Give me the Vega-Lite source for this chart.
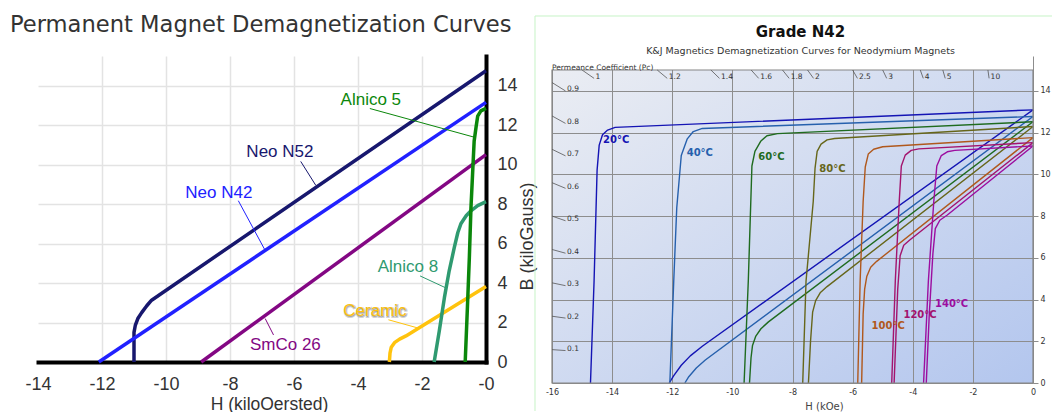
{
  "$schema": "https://vega.github.io/schema/vega-lite/v6.json",
  "background": "white",
  "padding": {"left": 10, "top": 14, "right": 0, "bottom": 0},
  "spacing": -3,
  "resolve": {"scale": {"color": "independent"}},
  "config": {"view": {"stroke": null}, "font": "DejaVu Sans"},
  "datasets": {
    "magnets": [
      {"m": "Neo N52", "i": 0, "h": -11.0, "b": 0},
      {"m": "Neo N52", "i": 1, "h": -11.0, "b": 1.5},
      {"m": "Neo N52", "i": 2, "h": -10.96, "b": 1.85},
      {"m": "Neo N52", "i": 3, "h": -10.88, "b": 2.2},
      {"m": "Neo N52", "i": 4, "h": -10.76, "b": 2.5},
      {"m": "Neo N52", "i": 5, "h": -10.6, "b": 2.85},
      {"m": "Neo N52", "i": 6, "h": -10.45, "b": 3.13},
      {"m": "Neo N52", "i": 7, "h": 0, "b": 14.75},
      {"m": "Neo N42", "i": 0, "h": -12.1, "b": 0},
      {"m": "Neo N42", "i": 1, "h": 0, "b": 13.15},
      {"m": "SmCo 26", "i": 0, "h": -8.9, "b": 0},
      {"m": "SmCo 26", "i": 1, "h": 0, "b": 10.5},
      {"m": "Ceramic", "i": 0, "h": -3.02, "b": 0},
      {"m": "Ceramic", "i": 1, "h": -3.0, "b": 0.45},
      {"m": "Ceramic", "i": 2, "h": -2.96, "b": 0.75},
      {"m": "Ceramic", "i": 3, "h": -2.86, "b": 0.98},
      {"m": "Ceramic", "i": 4, "h": -2.7, "b": 1.16},
      {"m": "Ceramic", "i": 5, "h": -2.5, "b": 1.32},
      {"m": "Ceramic", "i": 6, "h": -2.3, "b": 1.52},
      {"m": "Ceramic", "i": 7, "h": 0, "b": 3.82},
      {"m": "Alnico 8", "i": 0, "h": -1.62, "b": 0},
      {"m": "Alnico 8", "i": 1, "h": -1.46, "b": 1.57},
      {"m": "Alnico 8", "i": 2, "h": -1.3, "b": 3.26},
      {"m": "Alnico 8", "i": 3, "h": -1.15, "b": 4.62},
      {"m": "Alnico 8", "i": 4, "h": -0.99, "b": 5.8},
      {"m": "Alnico 8", "i": 5, "h": -0.88, "b": 6.56},
      {"m": "Alnico 8", "i": 6, "h": -0.78, "b": 7.02},
      {"m": "Alnico 8", "i": 7, "h": -0.62, "b": 7.41},
      {"m": "Alnico 8", "i": 8, "h": -0.47, "b": 7.66},
      {"m": "Alnico 8", "i": 9, "h": -0.26, "b": 7.92},
      {"m": "Alnico 8", "i": 10, "h": 0, "b": 8.12},
      {"m": "Alnico 5", "i": 0, "h": -0.65, "b": 0},
      {"m": "Alnico 5", "i": 1, "h": -0.58, "b": 2.8},
      {"m": "Alnico 5", "i": 2, "h": -0.52, "b": 5.3},
      {"m": "Alnico 5", "i": 3, "h": -0.47, "b": 7.8},
      {"m": "Alnico 5", "i": 4, "h": -0.42, "b": 9.5},
      {"m": "Alnico 5", "i": 5, "h": -0.37, "b": 11.2},
      {"m": "Alnico 5", "i": 6, "h": -0.31, "b": 11.9},
      {"m": "Alnico 5", "i": 7, "h": -0.26, "b": 12.45},
      {"m": "Alnico 5", "i": 8, "h": -0.16, "b": 12.72},
      {"m": "Alnico 5", "i": 9, "h": 0, "b": 12.85}
    ],
    "notes": [
      {"m": "Alnico 5", "h": -3.6, "b": 13.26},
      {"m": "Neo N52", "h": -6.44, "b": 10.62},
      {"m": "Neo N42", "h": -8.35, "b": 8.56},
      {"m": "Alnico 8", "h": -2.44, "b": 4.82},
      {"m": "Ceramic", "h": -3.47, "b": 2.57},
      {"m": "SmCo 26", "h": -6.27, "b": 0.85}
    ],
    "leaders": [
      {"m": "Alnico 5", "h": -3.63, "b": 12.84, "h2": -0.35, "b2": 11.38},
      {"m": "Neo N52", "h": -5.79, "b": 10.16, "h2": -5.32, "b2": 8.95},
      {"m": "Neo N42", "h": -7.74, "b": 8.17, "h2": -6.9, "b2": 5.65},
      {"m": "Alnico 8", "h": -2.06, "b": 4.36, "h2": -1.25, "b2": 3.75},
      {"m": "Ceramic", "h": -3.05, "b": 2.14, "h2": -2.1, "b2": 1.71},
      {"m": "SmCo 26", "h": -6.9, "b": 2.2, "h2": -6.64, "b2": 1.37}
    ],
    "grade": [
      {"t": "20°C", "k": "J", "i": 0, "h": 0, "b": 13.09},
      {"t": "20°C", "k": "J", "i": 1, "h": -13.9, "b": 12.25},
      {"t": "20°C", "k": "J", "i": 2, "h": -14.15, "b": 12.12},
      {"t": "20°C", "k": "J", "i": 3, "h": -14.32, "b": 11.9},
      {"t": "20°C", "k": "J", "i": 4, "h": -14.43, "b": 11.4},
      {"t": "20°C", "k": "J", "i": 5, "h": -14.5, "b": 10.2},
      {"t": "20°C", "k": "J", "i": 6, "h": -14.6, "b": 4.9},
      {"t": "20°C", "k": "J", "i": 7, "h": -14.72, "b": 0},
      {"t": "20°C", "k": "B", "i": 0, "h": 0, "b": 13.09},
      {"t": "20°C", "k": "B", "i": 1, "h": -11.0, "b": 1.76},
      {"t": "20°C", "k": "B", "i": 2, "h": -11.4, "b": 1.3},
      {"t": "20°C", "k": "B", "i": 3, "h": -11.7, "b": 0.85},
      {"t": "20°C", "k": "B", "i": 4, "h": -11.95, "b": 0.35},
      {"t": "20°C", "k": "B", "i": 5, "h": -12.1, "b": 0},
      {"t": "40°C", "k": "J", "i": 0, "h": 0, "b": 12.77},
      {"t": "40°C", "k": "J", "i": 1, "h": -11.0, "b": 12.2},
      {"t": "40°C", "k": "J", "i": 2, "h": -11.3, "b": 12.05},
      {"t": "40°C", "k": "J", "i": 3, "h": -11.5, "b": 11.7},
      {"t": "40°C", "k": "J", "i": 4, "h": -11.7, "b": 10.9},
      {"t": "40°C", "k": "J", "i": 5, "h": -11.85, "b": 8.4},
      {"t": "40°C", "k": "J", "i": 6, "h": -11.95, "b": 4.9},
      {"t": "40°C", "k": "J", "i": 7, "h": -12.08, "b": 0},
      {"t": "40°C", "k": "B", "i": 0, "h": 0, "b": 12.77},
      {"t": "40°C", "k": "B", "i": 1, "h": -10.9, "b": 1.1},
      {"t": "40°C", "k": "B", "i": 2, "h": -11.2, "b": 0.72},
      {"t": "40°C", "k": "B", "i": 3, "h": -11.45, "b": 0.3},
      {"t": "40°C", "k": "B", "i": 4, "h": -11.58, "b": 0},
      {"t": "60°C", "k": "J", "i": 0, "h": 0, "b": 12.52},
      {"t": "60°C", "k": "J", "i": 1, "h": -8.5, "b": 11.95},
      {"t": "60°C", "k": "J", "i": 2, "h": -8.85, "b": 11.85},
      {"t": "60°C", "k": "J", "i": 3, "h": -9.05, "b": 11.6},
      {"t": "60°C", "k": "J", "i": 4, "h": -9.25, "b": 11.1},
      {"t": "60°C", "k": "J", "i": 5, "h": -9.35, "b": 10.4},
      {"t": "60°C", "k": "J", "i": 6, "h": -9.47, "b": 4.9},
      {"t": "60°C", "k": "J", "i": 7, "h": -9.61, "b": 0},
      {"t": "60°C", "k": "B", "i": 0, "h": 0, "b": 12.52},
      {"t": "60°C", "k": "B", "i": 1, "h": -8.8, "b": 2.93},
      {"t": "60°C", "k": "B", "i": 2, "h": -9.05, "b": 2.6},
      {"t": "60°C", "k": "B", "i": 3, "h": -9.22, "b": 2.25},
      {"t": "60°C", "k": "B", "i": 4, "h": -9.33, "b": 1.8},
      {"t": "60°C", "k": "B", "i": 5, "h": -9.38, "b": 1.2},
      {"t": "60°C", "k": "B", "i": 6, "h": -9.43, "b": 0},
      {"t": "80°C", "k": "J", "i": 0, "h": 0, "b": 12.29},
      {"t": "80°C", "k": "J", "i": 1, "h": -6.6, "b": 11.72},
      {"t": "80°C", "k": "J", "i": 2, "h": -6.85, "b": 11.65},
      {"t": "80°C", "k": "J", "i": 3, "h": -7.05, "b": 11.45},
      {"t": "80°C", "k": "J", "i": 4, "h": -7.18, "b": 11.1},
      {"t": "80°C", "k": "J", "i": 5, "h": -7.25, "b": 10.3},
      {"t": "80°C", "k": "J", "i": 6, "h": -7.31, "b": 8.7},
      {"t": "80°C", "k": "J", "i": 7, "h": -7.55, "b": 4.88},
      {"t": "80°C", "k": "J", "i": 8, "h": -7.66, "b": 0},
      {"t": "80°C", "k": "B", "i": 0, "h": 0, "b": 12.29},
      {"t": "80°C", "k": "B", "i": 1, "h": -6.85, "b": 4.62},
      {"t": "80°C", "k": "B", "i": 2, "h": -7.08, "b": 4.32},
      {"t": "80°C", "k": "B", "i": 3, "h": -7.23, "b": 3.95},
      {"t": "80°C", "k": "B", "i": 4, "h": -7.33, "b": 3.4},
      {"t": "80°C", "k": "B", "i": 5, "h": -7.4, "b": 2.0},
      {"t": "80°C", "k": "B", "i": 6, "h": -7.47, "b": 0},
      {"t": "100°C", "k": "J", "i": 0, "h": 0, "b": 11.76},
      {"t": "100°C", "k": "J", "i": 1, "h": -5.0, "b": 11.32},
      {"t": "100°C", "k": "J", "i": 2, "h": -5.3, "b": 11.2},
      {"t": "100°C", "k": "J", "i": 3, "h": -5.48, "b": 10.97},
      {"t": "100°C", "k": "J", "i": 4, "h": -5.58, "b": 10.35},
      {"t": "100°C", "k": "J", "i": 5, "h": -5.65, "b": 8.7},
      {"t": "100°C", "k": "J", "i": 6, "h": -5.75, "b": 4.9},
      {"t": "100°C", "k": "J", "i": 7, "h": -5.83, "b": 0},
      {"t": "100°C", "k": "B", "i": 0, "h": 0, "b": 11.76},
      {"t": "100°C", "k": "B", "i": 1, "h": -5.2, "b": 5.83},
      {"t": "100°C", "k": "B", "i": 2, "h": -5.4, "b": 5.55},
      {"t": "100°C", "k": "B", "i": 3, "h": -5.53, "b": 5.1},
      {"t": "100°C", "k": "B", "i": 4, "h": -5.6, "b": 4.5},
      {"t": "100°C", "k": "B", "i": 5, "h": -5.65, "b": 3.3},
      {"t": "100°C", "k": "B", "i": 6, "h": -5.7, "b": 0},
      {"t": "120°C", "k": "J", "i": 0, "h": 0, "b": 11.52},
      {"t": "120°C", "k": "J", "i": 1, "h": -3.8, "b": 11.22},
      {"t": "120°C", "k": "J", "i": 2, "h": -4.05, "b": 11.15},
      {"t": "120°C", "k": "J", "i": 3, "h": -4.25, "b": 10.92},
      {"t": "120°C", "k": "J", "i": 4, "h": -4.38, "b": 10.4},
      {"t": "120°C", "k": "J", "i": 5, "h": -4.45, "b": 8.7},
      {"t": "120°C", "k": "J", "i": 6, "h": -4.58, "b": 4.9},
      {"t": "120°C", "k": "J", "i": 7, "h": -4.7, "b": 0},
      {"t": "120°C", "k": "B", "i": 0, "h": 0, "b": 11.52},
      {"t": "120°C", "k": "B", "i": 1, "h": -4.1, "b": 6.85},
      {"t": "120°C", "k": "B", "i": 2, "h": -4.3, "b": 6.6},
      {"t": "120°C", "k": "B", "i": 3, "h": -4.42, "b": 6.1},
      {"t": "120°C", "k": "B", "i": 4, "h": -4.5, "b": 4.5},
      {"t": "120°C", "k": "B", "i": 5, "h": -4.62, "b": 0},
      {"t": "140°C", "k": "J", "i": 0, "h": 0, "b": 11.36},
      {"t": "140°C", "k": "J", "i": 1, "h": -2.6, "b": 11.15},
      {"t": "140°C", "k": "J", "i": 2, "h": -2.85, "b": 11.08},
      {"t": "140°C", "k": "J", "i": 3, "h": -3.05, "b": 10.9},
      {"t": "140°C", "k": "J", "i": 4, "h": -3.2, "b": 10.4},
      {"t": "140°C", "k": "J", "i": 5, "h": -3.3, "b": 8.7},
      {"t": "140°C", "k": "J", "i": 6, "h": -3.48, "b": 4.9},
      {"t": "140°C", "k": "J", "i": 7, "h": -3.64, "b": 0},
      {"t": "140°C", "k": "B", "i": 0, "h": 0, "b": 11.36},
      {"t": "140°C", "k": "B", "i": 1, "h": -2.85, "b": 8.05},
      {"t": "140°C", "k": "B", "i": 2, "h": -3.1, "b": 7.8},
      {"t": "140°C", "k": "B", "i": 3, "h": -3.25, "b": 7.4},
      {"t": "140°C", "k": "B", "i": 4, "h": -3.33, "b": 6.2},
      {"t": "140°C", "k": "B", "i": 5, "h": -3.45, "b": 3.3},
      {"t": "140°C", "k": "B", "i": 6, "h": -3.55, "b": 0}
    ],
    "temps": [
      {"t": "20°C", "h": -14.3, "b": 11.65},
      {"t": "40°C", "h": -11.52, "b": 11.0},
      {"t": "60°C", "h": -9.14, "b": 10.85},
      {"t": "80°C", "h": -7.11, "b": 10.24},
      {"t": "100°C", "h": -5.37, "b": 2.73},
      {"t": "120°C", "h": -4.31, "b": 3.26},
      {"t": "140°C", "h": -3.26, "b": 3.77}
    ],
    "permeance": [
      {"pc": "1", "h": -15, "b": 15, "h2": -14.6, "b2": 14.6},
      {"pc": "1.2", "h": -12.5, "b": 15, "h2": -12.167, "b2": 14.6},
      {"pc": "1.4", "h": -10.714, "b": 15, "h2": -10.429, "b2": 14.6},
      {"pc": "1.6", "h": -9.375, "b": 15, "h2": -9.125, "b2": 14.6},
      {"pc": "1.8", "h": -8.333, "b": 15, "h2": -8.111, "b2": 14.6},
      {"pc": "2", "h": -7.5, "b": 15, "h2": -7.3, "b2": 14.6},
      {"pc": "2.5", "h": -6, "b": 15, "h2": -5.84, "b2": 14.6},
      {"pc": "3", "h": -5, "b": 15, "h2": -4.867, "b2": 14.6},
      {"pc": "4", "h": -3.75, "b": 15, "h2": -3.65, "b2": 14.6},
      {"pc": "5", "h": -3, "b": 15, "h2": -2.92, "b2": 14.6},
      {"pc": "10", "h": -1.5, "b": 15, "h2": -1.46, "b2": 14.6},
      {"pc": "0.1", "h": -16, "b": 1.6, "h2": -15.55, "b2": 1.555},
      {"pc": "0.2", "h": -16, "b": 3.2, "h2": -15.55, "b2": 3.11},
      {"pc": "0.3", "h": -16, "b": 4.8, "h2": -15.55, "b2": 4.665},
      {"pc": "0.4", "h": -16, "b": 6.4, "h2": -15.55, "b2": 6.22},
      {"pc": "0.5", "h": -16, "b": 8.0, "h2": -15.55, "b2": 7.775},
      {"pc": "0.6", "h": -16, "b": 9.6, "h2": -15.55, "b2": 9.33},
      {"pc": "0.7", "h": -16, "b": 11.2, "h2": -15.55, "b2": 10.885},
      {"pc": "0.8", "h": -16, "b": 12.8, "h2": -15.55, "b2": 12.44},
      {"pc": "0.9", "h": -16, "b": 14.4, "h2": -15.55, "b2": 13.995}
    ]
  },
  "hconcat": [
    {
      "width": 448,
      "height": 306,
      "title": {
        "text": "Permanent Magnet Demagnetization Curves",
        "anchor": "start",
        "frame": "group",
        "dx": -28,
        "offset": 19,
        "font": "DejaVu Sans",
        "fontSize": 22.6,
        "fontWeight": "normal",
        "color": "#333333"
      },
      "layer": [
        {
          "data": {"name": "magnets"},
          "mark": {"type": "line", "strokeWidth": 3.5, "strokeJoin": "round", "strokeCap": "butt"},
          "encoding": {
            "x": {
              "field": "h", "type": "quantitative",
              "scale": {"domain": [-14, 0], "nice": false, "zero": false},
              "title": "H (kiloOersted)",
              "axis": {
                "orient": "bottom",
                "values": [-14, -12, -10, -8, -6, -4, -2, 0],
                "labelExpr": "'-' + abs(datum.value)",
                "labelFlush": false,
                "domainColor": "#000000", "domainWidth": 4, "domainCap": "square",
                "ticks": false,
                "labelFont": "Liberation Sans", "labelFontSize": 18, "labelColor": "#333333", "labelPadding": 13,
                "grid": true, "gridColor": "#e3e3e3", "gridWidth": 1.5,
                "gridOpacity": {"condition": {"test": "datum.value == -14 || datum.value == 0", "value": 0}, "value": 1},
                "titleFont": "Liberation Sans", "titleFontSize": 17.5, "titleFontWeight": "normal", "titleColor": "#333333", "titlePadding": 2,
                "titleX": 231
              }
            },
            "y": {
              "field": "b", "type": "quantitative",
              "scale": {"domain": [0, 15.5], "nice": false, "zero": false},
              "title": "B (kiloGauss)",
              "axis": {
                "orient": "right",
                "values": [0, 2, 4, 6, 8, 10, 12, 14],
                "labelFlush": false,
                "domainColor": "#000000", "domainWidth": 4, "domainCap": "square",
                "ticks": false,
                "labelFont": "Liberation Sans", "labelFontSize": 18, "labelColor": "#333333", "labelPadding": 11,
                "grid": true, "gridColor": "#e3e3e3", "gridWidth": 1.5,
                "gridOpacity": {"condition": {"test": "datum.value == 0", "value": 0}, "value": 1},
                "titleFont": "Liberation Sans", "titleFontSize": 18, "titleFontWeight": "normal", "titleColor": "#333333",
                "titleAngle": 270, "titleBaseline": "top", "titlePadding": 1,
                "titleY": 180
              }
            },
            "color": {
              "field": "m", "type": "nominal", "legend": null,
              "scale": {
                "domain": ["Neo N52", "Neo N42", "SmCo 26", "Alnico 5", "Alnico 8", "Ceramic"],
                "range": ["#17176e", "#2121ff", "#830783", "#0b870b", "#2f9a70", "#ffc30d"]
              }
            },
            "order": {"field": "i", "type": "quantitative"}
          }
        },
        {
          "data": {"name": "leaders"},
          "mark": {"type": "rule", "strokeWidth": 1},
          "encoding": {
            "x": {"field": "h", "type": "quantitative", "title": "H (kiloOersted)"},
            "y": {"field": "b", "type": "quantitative", "title": "B (kiloGauss)"},
            "x2": {"field": "h2"},
            "y2": {"field": "b2"},
            "color": {"field": "m", "type": "nominal", "legend": null}
          }
        },
        {
          "data": {"name": "notes"},
          "transform": [{"filter": "datum.m == 'Ceramic'"}],
          "mark": {"type": "text", "font": "Liberation Sans", "fontSize": 17, "align": "center", "baseline": "middle", "stroke": "#8c8c8c", "strokeWidth": 2, "strokeOpacity": 0.4, "fill": "#8c8c8c", "fillOpacity": 0.6, "dx": 0.5, "dy": 0.5},
          "encoding": {
            "x": {"field": "h", "type": "quantitative", "title": "H (kiloOersted)"},
            "y": {"field": "b", "type": "quantitative", "title": "B (kiloGauss)"},
            "text": {"field": "m"}
          }
        },
        {
          "data": {"name": "notes"},
          "mark": {"type": "text", "font": "Liberation Sans", "fontSize": 17, "align": "center", "baseline": "middle"},
          "encoding": {
            "x": {"field": "h", "type": "quantitative", "title": "H (kiloOersted)"},
            "y": {"field": "b", "type": "quantitative", "title": "B (kiloGauss)"},
            "text": {"field": "m"},
            "color": {"field": "m", "type": "nominal", "legend": null}
          }
        }
      ]
    },
    {
      "width": 481,
      "height": 327,
      "view": {
        "stroke": null,
        "fill": {
          "gradient": "linear", "x1": 0, "y1": 0, "x2": 1, "y2": 1,
          "stops": [{"offset": 0, "color": "#eceef3"}, {"offset": 1, "color": "#b3c6ee"}]
        }
      },
      "title": {
        "text": "Grade N42",
        "subtitle": "K&J Magnetics Demagnetization Curves for Neodymium Magnets",
        "anchor": "middle",
        "dx": 8,
        "offset": -40,
        "font": "DejaVu Sans",
        "fontSize": 15,
        "fontWeight": "bold",
        "color": "#111111",
        "subtitleFont": "DejaVu Sans",
        "subtitleFontSize": 9.5,
        "subtitleColor": "#333333",
        "subtitlePadding": 6
      },
      "layer": [
        {
          "data": {"name": "grade"},
          "mark": {"type": "line", "strokeWidth": 1.4, "strokeJoin": "round"},
          "encoding": {
            "x": {
              "field": "h", "type": "quantitative",
              "scale": {"domain": [-16, 0], "nice": false, "zero": false},
              "title": "H (kOe)",
              "axis": {
                "orient": "bottom",
                "values": [-16, -14, -12, -10, -8, -6, -4, -2, 0],
                "labelExpr": "datum.value == 0 ? '0' : '-' + abs(datum.value)",
                "labelFlush": false,
                "domain": false, "ticks": false,
                "labelFontSize": 8, "labelColor": "#333333", "labelPadding": 5,
                "grid": true, "gridColor": "#8d8d8d", "gridWidth": 1,
                "titleFontSize": 10, "titleFontWeight": "normal", "titleColor": "#444444", "titlePadding": 5,
                "titleX": 272
              }
            },
            "y": {
              "field": "b", "type": "quantitative",
              "scale": {"domain": [0, 15.671], "nice": false, "zero": false},
              "title": null,
              "axis": {
                "orient": "right",
                "values": [0, 2, 4, 6, 8, 10, 12, 14],
                "labelFlush": false,
                "domain": false, "ticks": true, "tickColor": "#8d8d8d", "tickSize": 5,
                "labelFontSize": 8, "labelColor": "#333333", "labelPadding": 2,
                "grid": true, "gridColor": "#8d8d8d", "gridWidth": 1
              }
            },
            "color": {
              "field": "t", "type": "nominal", "legend": null,
              "scale": {
                "domain": ["20°C", "40°C", "60°C", "80°C", "100°C", "120°C", "140°C"],
                "range": ["#1414b4", "#2660ad", "#1f6b1f", "#66661a", "#b0581c", "#a3146e", "#9c0ea0"]
              }
            },
            "detail": {"field": "k"},
            "order": {"field": "i", "type": "quantitative"}
          }
        },
        {
          "data": {"values": [{}]},
          "mark": {"type": "rect", "fill": "white"},
          "encoding": {
            "x": {"datum": -16, "type": "quantitative", "title": "H (kOe)"},
            "x2": {"datum": 0},
            "y": {"datum": 15, "type": "quantitative", "title": null},
            "y2": {"datum": 15.671}
          }
        },
        {
          "data": {"values": [{}]},
          "mark": {"type": "rect", "filled": false, "stroke": "#858585", "strokeWidth": 1.2},
          "encoding": {
            "x": {"datum": -16, "type": "quantitative", "title": "H (kOe)"},
            "x2": {"datum": 0},
            "y": {"datum": 0, "type": "quantitative", "title": null},
            "y2": {"datum": 15}
          }
        },
        {
          "data": {"name": "permeance"},
          "mark": {"type": "rule", "stroke": "#555555", "strokeWidth": 0.8},
          "encoding": {
            "x": {"field": "h", "type": "quantitative", "title": "H (kOe)"},
            "y": {"field": "b", "type": "quantitative", "title": null},
            "x2": {"field": "h2"},
            "y2": {"field": "b2"}
          }
        },
        {
          "data": {"name": "permeance"},
          "mark": {"type": "text", "fontSize": 7.5, "color": "#333333", "align": "left", "baseline": "middle", "dx": 1.5, "dy": -1.5},
          "encoding": {
            "x": {"field": "h2", "type": "quantitative", "title": "H (kOe)"},
            "y": {"field": "b2", "type": "quantitative", "title": null},
            "text": {"field": "pc"}
          }
        },
        {
          "data": {"values": [{}]},
          "mark": {"type": "text", "fontSize": 7.5, "color": "#333333", "align": "left", "baseline": "alphabetic"},
          "encoding": {
            "x": {"datum": -16, "type": "quantitative", "title": "H (kOe)"},
            "y": {"datum": 15, "type": "quantitative", "title": null},
            "text": {"value": "Permeance Coefficient (Pc)"}
          }
        },
        {
          "data": {"name": "temps"},
          "mark": {"type": "text", "fontSize": 10, "fontWeight": "bold", "align": "left", "baseline": "middle"},
          "encoding": {
            "x": {"field": "h", "type": "quantitative", "title": "H (kOe)"},
            "y": {"field": "b", "type": "quantitative", "title": null},
            "text": {"field": "t"},
            "color": {"field": "t", "type": "nominal", "legend": null}
          }
        },
        {
          "data": {"values": [{}]},
          "mark": {"type": "rule", "stroke": "#c6f3c6", "strokeWidth": 1},
          "encoding": {
            "x": {"datum": -16.5655, "type": "quantitative", "title": "H (kOe)"},
            "y": {"datum": 17.588, "type": "quantitative", "title": null},
            "y2": {"datum": -1.342}
          }
        },
        {
          "data": {"values": [{}]},
          "mark": {"type": "rule", "stroke": "#c6f3c6", "strokeWidth": 1},
          "encoding": {
            "x": {"datum": -16.5655, "type": "quantitative", "title": "H (kOe)"},
            "x2": {"datum": 0.632},
            "y": {"datum": 17.588, "type": "quantitative", "title": null}
          }
        }
      ]
    }
  ]
}
